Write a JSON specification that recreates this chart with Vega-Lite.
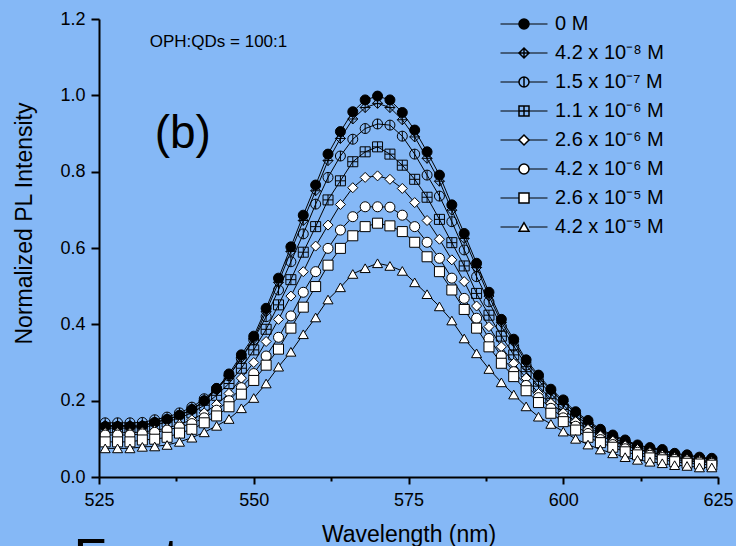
{
"$schema": "https://vega.github.io/schema/vega-lite/v6.json",
"autosize": {"type": "none"},
"width": 619, "height": 458,
"padding": {"left": 99, "top": 19, "right": 18, "bottom": 69},
"background": "#85b8f6",
"config": {"view": {"stroke": null}, "font": "Liberation Sans"},
"layer": [
{
"data": {"values": [
{"s":"0 M","w":526,"v":0.132},{"s":"0 M","w":528,"v":0.132},{"s":"0 M","w":530,"v":0.132},{"s":"0 M","w":532,"v":0.133},{"s":"0 M","w":534,"v":0.143},{"s":"0 M","w":536,"v":0.151},{"s":"0 M","w":538,"v":0.162},{"s":"0 M","w":540,"v":0.177},{"s":"0 M","w":542,"v":0.200},{"s":"0 M","w":544,"v":0.232},
{"s":"0 M","w":546,"v":0.270},{"s":"0 M","w":548,"v":0.320},{"s":"0 M","w":550,"v":0.369},{"s":"0 M","w":552,"v":0.442},{"s":"0 M","w":554,"v":0.521},{"s":"0 M","w":556,"v":0.603},{"s":"0 M","w":558,"v":0.686},{"s":"0 M","w":560,"v":0.765},{"s":"0 M","w":562,"v":0.846},{"s":"0 M","w":564,"v":0.905},
{"s":"0 M","w":566,"v":0.957},{"s":"0 M","w":568,"v":0.988},{"s":"0 M","w":570,"v":0.998},{"s":"0 M","w":572,"v":0.988},{"s":"0 M","w":574,"v":0.955},{"s":"0 M","w":576,"v":0.909},{"s":"0 M","w":578,"v":0.852},{"s":"0 M","w":580,"v":0.791},{"s":"0 M","w":582,"v":0.713},{"s":"0 M","w":584,"v":0.638},
{"s":"0 M","w":586,"v":0.560},{"s":"0 M","w":588,"v":0.484},{"s":"0 M","w":590,"v":0.413},{"s":"0 M","w":592,"v":0.361},{"s":"0 M","w":594,"v":0.307},{"s":"0 M","w":596,"v":0.267},{"s":"0 M","w":598,"v":0.230},{"s":"0 M","w":600,"v":0.202},{"s":"0 M","w":602,"v":0.171},{"s":"0 M","w":604,"v":0.148},
{"s":"0 M","w":606,"v":0.125},{"s":"0 M","w":608,"v":0.110},{"s":"0 M","w":610,"v":0.097},{"s":"0 M","w":612,"v":0.084},{"s":"0 M","w":614,"v":0.077},{"s":"0 M","w":616,"v":0.072},{"s":"0 M","w":618,"v":0.062},{"s":"0 M","w":620,"v":0.058},{"s":"0 M","w":622,"v":0.052},{"s":"0 M","w":624,"v":0.049},

{"s":"4.2 x 10⁻⁸ M","w":526,"v":0.135},{"s":"4.2 x 10⁻⁸ M","w":528,"v":0.135},{"s":"4.2 x 10⁻⁸ M","w":530,"v":0.135},{"s":"4.2 x 10⁻⁸ M","w":532,"v":0.136},{"s":"4.2 x 10⁻⁸ M","w":534,"v":0.143},{"s":"4.2 x 10⁻⁸ M","w":536,"v":0.151},{"s":"4.2 x 10⁻⁸ M","w":538,"v":0.161},{"s":"4.2 x 10⁻⁸ M","w":540,"v":0.176},{"s":"4.2 x 10⁻⁸ M","w":542,"v":0.198},{"s":"4.2 x 10⁻⁸ M","w":544,"v":0.228},
{"s":"4.2 x 10⁻⁸ M","w":546,"v":0.265},{"s":"4.2 x 10⁻⁸ M","w":548,"v":0.313},{"s":"4.2 x 10⁻⁸ M","w":550,"v":0.362},{"s":"4.2 x 10⁻⁸ M","w":552,"v":0.433},{"s":"4.2 x 10⁻⁸ M","w":554,"v":0.510},{"s":"4.2 x 10⁻⁸ M","w":556,"v":0.591},{"s":"4.2 x 10⁻⁸ M","w":558,"v":0.672},{"s":"4.2 x 10⁻⁸ M","w":560,"v":0.750},{"s":"4.2 x 10⁻⁸ M","w":562,"v":0.829},{"s":"4.2 x 10⁻⁸ M","w":564,"v":0.887},
{"s":"4.2 x 10⁻⁸ M","w":566,"v":0.938},{"s":"4.2 x 10⁻⁸ M","w":568,"v":0.968},{"s":"4.2 x 10⁻⁸ M","w":570,"v":0.979},{"s":"4.2 x 10⁻⁸ M","w":572,"v":0.968},{"s":"4.2 x 10⁻⁸ M","w":574,"v":0.936},{"s":"4.2 x 10⁻⁸ M","w":576,"v":0.891},{"s":"4.2 x 10⁻⁸ M","w":578,"v":0.835},{"s":"4.2 x 10⁻⁸ M","w":580,"v":0.775},{"s":"4.2 x 10⁻⁸ M","w":582,"v":0.699},{"s":"4.2 x 10⁻⁸ M","w":584,"v":0.625},
{"s":"4.2 x 10⁻⁸ M","w":586,"v":0.549},{"s":"4.2 x 10⁻⁸ M","w":588,"v":0.474},{"s":"4.2 x 10⁻⁸ M","w":590,"v":0.405},{"s":"4.2 x 10⁻⁸ M","w":592,"v":0.354},{"s":"4.2 x 10⁻⁸ M","w":594,"v":0.301},{"s":"4.2 x 10⁻⁸ M","w":596,"v":0.262},{"s":"4.2 x 10⁻⁸ M","w":598,"v":0.226},{"s":"4.2 x 10⁻⁸ M","w":600,"v":0.197},{"s":"4.2 x 10⁻⁸ M","w":602,"v":0.167},{"s":"4.2 x 10⁻⁸ M","w":604,"v":0.144},
{"s":"4.2 x 10⁻⁸ M","w":606,"v":0.122},{"s":"4.2 x 10⁻⁸ M","w":608,"v":0.107},{"s":"4.2 x 10⁻⁸ M","w":610,"v":0.094},{"s":"4.2 x 10⁻⁸ M","w":612,"v":0.082},{"s":"4.2 x 10⁻⁸ M","w":614,"v":0.075},{"s":"4.2 x 10⁻⁸ M","w":616,"v":0.069},{"s":"4.2 x 10⁻⁸ M","w":618,"v":0.060},{"s":"4.2 x 10⁻⁸ M","w":620,"v":0.056},{"s":"4.2 x 10⁻⁸ M","w":622,"v":0.050},{"s":"4.2 x 10⁻⁸ M","w":624,"v":0.047},

{"s":"1.5 x 10⁻⁷ M","w":526,"v":0.142},{"s":"1.5 x 10⁻⁷ M","w":528,"v":0.142},{"s":"1.5 x 10⁻⁷ M","w":530,"v":0.142},{"s":"1.5 x 10⁻⁷ M","w":532,"v":0.143},{"s":"1.5 x 10⁻⁷ M","w":534,"v":0.150},{"s":"1.5 x 10⁻⁷ M","w":536,"v":0.157},{"s":"1.5 x 10⁻⁷ M","w":538,"v":0.168},{"s":"1.5 x 10⁻⁷ M","w":540,"v":0.183},{"s":"1.5 x 10⁻⁷ M","w":542,"v":0.205},{"s":"1.5 x 10⁻⁷ M","w":544,"v":0.232},
{"s":"1.5 x 10⁻⁷ M","w":546,"v":0.265},{"s":"1.5 x 10⁻⁷ M","w":548,"v":0.310},{"s":"1.5 x 10⁻⁷ M","w":550,"v":0.360},{"s":"1.5 x 10⁻⁷ M","w":552,"v":0.420},{"s":"1.5 x 10⁻⁷ M","w":554,"v":0.490},{"s":"1.5 x 10⁻⁷ M","w":556,"v":0.564},{"s":"1.5 x 10⁻⁷ M","w":558,"v":0.637},{"s":"1.5 x 10⁻⁷ M","w":560,"v":0.715},{"s":"1.5 x 10⁻⁷ M","w":562,"v":0.785},{"s":"1.5 x 10⁻⁷ M","w":564,"v":0.841},
{"s":"1.5 x 10⁻⁷ M","w":566,"v":0.885},{"s":"1.5 x 10⁻⁷ M","w":568,"v":0.913},{"s":"1.5 x 10⁻⁷ M","w":570,"v":0.925},{"s":"1.5 x 10⁻⁷ M","w":572,"v":0.922},{"s":"1.5 x 10⁻⁷ M","w":574,"v":0.893},{"s":"1.5 x 10⁻⁷ M","w":576,"v":0.846},{"s":"1.5 x 10⁻⁷ M","w":578,"v":0.791},{"s":"1.5 x 10⁻⁷ M","w":580,"v":0.736},{"s":"1.5 x 10⁻⁷ M","w":582,"v":0.669},{"s":"1.5 x 10⁻⁷ M","w":584,"v":0.595},
{"s":"1.5 x 10⁻⁷ M","w":586,"v":0.525},{"s":"1.5 x 10⁻⁷ M","w":588,"v":0.459},{"s":"1.5 x 10⁻⁷ M","w":590,"v":0.395},{"s":"1.5 x 10⁻⁷ M","w":592,"v":0.343},{"s":"1.5 x 10⁻⁷ M","w":594,"v":0.293},{"s":"1.5 x 10⁻⁷ M","w":596,"v":0.253},{"s":"1.5 x 10⁻⁷ M","w":598,"v":0.218},{"s":"1.5 x 10⁻⁷ M","w":600,"v":0.188},{"s":"1.5 x 10⁻⁷ M","w":602,"v":0.160},{"s":"1.5 x 10⁻⁷ M","w":604,"v":0.138},
{"s":"1.5 x 10⁻⁷ M","w":606,"v":0.118},{"s":"1.5 x 10⁻⁷ M","w":608,"v":0.102},{"s":"1.5 x 10⁻⁷ M","w":610,"v":0.089},{"s":"1.5 x 10⁻⁷ M","w":612,"v":0.078},{"s":"1.5 x 10⁻⁷ M","w":614,"v":0.069},{"s":"1.5 x 10⁻⁷ M","w":616,"v":0.062},{"s":"1.5 x 10⁻⁷ M","w":618,"v":0.055},{"s":"1.5 x 10⁻⁷ M","w":620,"v":0.050},{"s":"1.5 x 10⁻⁷ M","w":622,"v":0.046},{"s":"1.5 x 10⁻⁷ M","w":624,"v":0.043},

{"s":"1.1 x 10⁻⁶ M","w":526,"v":0.128},{"s":"1.1 x 10⁻⁶ M","w":528,"v":0.128},{"s":"1.1 x 10⁻⁶ M","w":530,"v":0.128},{"s":"1.1 x 10⁻⁶ M","w":532,"v":0.130},{"s":"1.1 x 10⁻⁶ M","w":534,"v":0.136},{"s":"1.1 x 10⁻⁶ M","w":536,"v":0.144},{"s":"1.1 x 10⁻⁶ M","w":538,"v":0.155},{"s":"1.1 x 10⁻⁶ M","w":540,"v":0.168},{"s":"1.1 x 10⁻⁶ M","w":542,"v":0.188},{"s":"1.1 x 10⁻⁶ M","w":544,"v":0.214},
{"s":"1.1 x 10⁻⁶ M","w":546,"v":0.245},{"s":"1.1 x 10⁻⁶ M","w":548,"v":0.285},{"s":"1.1 x 10⁻⁶ M","w":550,"v":0.333},{"s":"1.1 x 10⁻⁶ M","w":552,"v":0.387},{"s":"1.1 x 10⁻⁶ M","w":554,"v":0.451},{"s":"1.1 x 10⁻⁶ M","w":556,"v":0.517},{"s":"1.1 x 10⁻⁶ M","w":558,"v":0.589},{"s":"1.1 x 10⁻⁶ M","w":560,"v":0.656},{"s":"1.1 x 10⁻⁶ M","w":562,"v":0.726},{"s":"1.1 x 10⁻⁶ M","w":564,"v":0.776},
{"s":"1.1 x 10⁻⁶ M","w":566,"v":0.826},{"s":"1.1 x 10⁻⁶ M","w":568,"v":0.852},{"s":"1.1 x 10⁻⁶ M","w":570,"v":0.865},{"s":"1.1 x 10⁻⁶ M","w":572,"v":0.846},{"s":"1.1 x 10⁻⁶ M","w":574,"v":0.817},{"s":"1.1 x 10⁻⁶ M","w":576,"v":0.780},{"s":"1.1 x 10⁻⁶ M","w":578,"v":0.733},{"s":"1.1 x 10⁻⁶ M","w":580,"v":0.675},{"s":"1.1 x 10⁻⁶ M","w":582,"v":0.614},{"s":"1.1 x 10⁻⁶ M","w":584,"v":0.553},
{"s":"1.1 x 10⁻⁶ M","w":586,"v":0.481},{"s":"1.1 x 10⁻⁶ M","w":588,"v":0.424},{"s":"1.1 x 10⁻⁶ M","w":590,"v":0.369},{"s":"1.1 x 10⁻⁶ M","w":592,"v":0.320},{"s":"1.1 x 10⁻⁶ M","w":594,"v":0.276},{"s":"1.1 x 10⁻⁶ M","w":596,"v":0.238},{"s":"1.1 x 10⁻⁶ M","w":598,"v":0.205},{"s":"1.1 x 10⁻⁶ M","w":600,"v":0.177},{"s":"1.1 x 10⁻⁶ M","w":602,"v":0.152},{"s":"1.1 x 10⁻⁶ M","w":604,"v":0.131},
{"s":"1.1 x 10⁻⁶ M","w":606,"v":0.112},{"s":"1.1 x 10⁻⁶ M","w":608,"v":0.097},{"s":"1.1 x 10⁻⁶ M","w":610,"v":0.084},{"s":"1.1 x 10⁻⁶ M","w":612,"v":0.074},{"s":"1.1 x 10⁻⁶ M","w":614,"v":0.065},{"s":"1.1 x 10⁻⁶ M","w":616,"v":0.058},{"s":"1.1 x 10⁻⁶ M","w":618,"v":0.052},{"s":"1.1 x 10⁻⁶ M","w":620,"v":0.047},{"s":"1.1 x 10⁻⁶ M","w":622,"v":0.043},{"s":"1.1 x 10⁻⁶ M","w":624,"v":0.040},

{"s":"2.6 x 10⁻⁶ M","w":526,"v":0.116},{"s":"2.6 x 10⁻⁶ M","w":528,"v":0.116},{"s":"2.6 x 10⁻⁶ M","w":530,"v":0.116},{"s":"2.6 x 10⁻⁶ M","w":532,"v":0.118},{"s":"2.6 x 10⁻⁶ M","w":534,"v":0.122},{"s":"2.6 x 10⁻⁶ M","w":536,"v":0.128},{"s":"2.6 x 10⁻⁶ M","w":538,"v":0.138},{"s":"2.6 x 10⁻⁶ M","w":540,"v":0.150},{"s":"2.6 x 10⁻⁶ M","w":542,"v":0.168},{"s":"2.6 x 10⁻⁶ M","w":544,"v":0.190},
{"s":"2.6 x 10⁻⁶ M","w":546,"v":0.219},{"s":"2.6 x 10⁻⁶ M","w":548,"v":0.259},{"s":"2.6 x 10⁻⁶ M","w":550,"v":0.300},{"s":"2.6 x 10⁻⁶ M","w":552,"v":0.355},{"s":"2.6 x 10⁻⁶ M","w":554,"v":0.413},{"s":"2.6 x 10⁻⁶ M","w":556,"v":0.474},{"s":"2.6 x 10⁻⁶ M","w":558,"v":0.538},{"s":"2.6 x 10⁻⁶ M","w":560,"v":0.605},{"s":"2.6 x 10⁻⁶ M","w":562,"v":0.660},{"s":"2.6 x 10⁻⁶ M","w":564,"v":0.714},
{"s":"2.6 x 10⁻⁶ M","w":566,"v":0.758},{"s":"2.6 x 10⁻⁶ M","w":568,"v":0.785},{"s":"2.6 x 10⁻⁶ M","w":570,"v":0.789},{"s":"2.6 x 10⁻⁶ M","w":572,"v":0.780},{"s":"2.6 x 10⁻⁶ M","w":574,"v":0.756},{"s":"2.6 x 10⁻⁶ M","w":576,"v":0.719},{"s":"2.6 x 10⁻⁶ M","w":578,"v":0.672},{"s":"2.6 x 10⁻⁶ M","w":580,"v":0.623},{"s":"2.6 x 10⁻⁶ M","w":582,"v":0.569},{"s":"2.6 x 10⁻⁶ M","w":584,"v":0.512},
{"s":"2.6 x 10⁻⁶ M","w":586,"v":0.448},{"s":"2.6 x 10⁻⁶ M","w":588,"v":0.394},{"s":"2.6 x 10⁻⁶ M","w":590,"v":0.341},{"s":"2.6 x 10⁻⁶ M","w":592,"v":0.298},{"s":"2.6 x 10⁻⁶ M","w":594,"v":0.259},{"s":"2.6 x 10⁻⁶ M","w":596,"v":0.219},{"s":"2.6 x 10⁻⁶ M","w":598,"v":0.193},{"s":"2.6 x 10⁻⁶ M","w":600,"v":0.168},{"s":"2.6 x 10⁻⁶ M","w":602,"v":0.145},{"s":"2.6 x 10⁻⁶ M","w":604,"v":0.125},
{"s":"2.6 x 10⁻⁶ M","w":606,"v":0.108},{"s":"2.6 x 10⁻⁶ M","w":608,"v":0.094},{"s":"2.6 x 10⁻⁶ M","w":610,"v":0.082},{"s":"2.6 x 10⁻⁶ M","w":612,"v":0.072},{"s":"2.6 x 10⁻⁶ M","w":614,"v":0.064},{"s":"2.6 x 10⁻⁶ M","w":616,"v":0.057},{"s":"2.6 x 10⁻⁶ M","w":618,"v":0.051},{"s":"2.6 x 10⁻⁶ M","w":620,"v":0.047},{"s":"2.6 x 10⁻⁶ M","w":622,"v":0.043},{"s":"2.6 x 10⁻⁶ M","w":624,"v":0.040},

{"s":"4.2 x 10⁻⁶ M","w":526,"v":0.110},{"s":"4.2 x 10⁻⁶ M","w":528,"v":0.110},{"s":"4.2 x 10⁻⁶ M","w":530,"v":0.110},{"s":"4.2 x 10⁻⁶ M","w":532,"v":0.113},{"s":"4.2 x 10⁻⁶ M","w":534,"v":0.117},{"s":"4.2 x 10⁻⁶ M","w":536,"v":0.123},{"s":"4.2 x 10⁻⁶ M","w":538,"v":0.131},{"s":"4.2 x 10⁻⁶ M","w":540,"v":0.140},{"s":"4.2 x 10⁻⁶ M","w":542,"v":0.155},{"s":"4.2 x 10⁻⁶ M","w":544,"v":0.175},
{"s":"4.2 x 10⁻⁶ M","w":546,"v":0.200},{"s":"4.2 x 10⁻⁶ M","w":548,"v":0.234},{"s":"4.2 x 10⁻⁶ M","w":550,"v":0.271},{"s":"4.2 x 10⁻⁶ M","w":552,"v":0.317},{"s":"4.2 x 10⁻⁶ M","w":554,"v":0.366},{"s":"4.2 x 10⁻⁶ M","w":556,"v":0.422},{"s":"4.2 x 10⁻⁶ M","w":558,"v":0.484},{"s":"4.2 x 10⁻⁶ M","w":560,"v":0.538},{"s":"4.2 x 10⁻⁶ M","w":562,"v":0.599},{"s":"4.2 x 10⁻⁶ M","w":564,"v":0.647},
{"s":"4.2 x 10⁻⁶ M","w":566,"v":0.682},{"s":"4.2 x 10⁻⁶ M","w":568,"v":0.708},{"s":"4.2 x 10⁻⁶ M","w":570,"v":0.708},{"s":"4.2 x 10⁻⁶ M","w":572,"v":0.707},{"s":"4.2 x 10⁻⁶ M","w":574,"v":0.686},{"s":"4.2 x 10⁻⁶ M","w":576,"v":0.656},{"s":"4.2 x 10⁻⁶ M","w":578,"v":0.615},{"s":"4.2 x 10⁻⁶ M","w":580,"v":0.573},{"s":"4.2 x 10⁻⁶ M","w":582,"v":0.521},{"s":"4.2 x 10⁻⁶ M","w":584,"v":0.468},
{"s":"4.2 x 10⁻⁶ M","w":586,"v":0.416},{"s":"4.2 x 10⁻⁶ M","w":588,"v":0.363},{"s":"4.2 x 10⁻⁶ M","w":590,"v":0.317},{"s":"4.2 x 10⁻⁶ M","w":592,"v":0.276},{"s":"4.2 x 10⁻⁶ M","w":594,"v":0.240},{"s":"4.2 x 10⁻⁶ M","w":596,"v":0.208},{"s":"4.2 x 10⁻⁶ M","w":598,"v":0.180},{"s":"4.2 x 10⁻⁶ M","w":600,"v":0.155},{"s":"4.2 x 10⁻⁶ M","w":602,"v":0.133},{"s":"4.2 x 10⁻⁶ M","w":604,"v":0.114},
{"s":"4.2 x 10⁻⁶ M","w":606,"v":0.098},{"s":"4.2 x 10⁻⁶ M","w":608,"v":0.085},{"s":"4.2 x 10⁻⁶ M","w":610,"v":0.074},{"s":"4.2 x 10⁻⁶ M","w":612,"v":0.065},{"s":"4.2 x 10⁻⁶ M","w":614,"v":0.057},{"s":"4.2 x 10⁻⁶ M","w":616,"v":0.051},{"s":"4.2 x 10⁻⁶ M","w":618,"v":0.046},{"s":"4.2 x 10⁻⁶ M","w":620,"v":0.042},{"s":"4.2 x 10⁻⁶ M","w":622,"v":0.039},{"s":"4.2 x 10⁻⁶ M","w":624,"v":0.036},

{"s":"2.6 x 10⁻⁵ M","w":526,"v":0.092},{"s":"2.6 x 10⁻⁵ M","w":528,"v":0.092},{"s":"2.6 x 10⁻⁵ M","w":530,"v":0.092},{"s":"2.6 x 10⁻⁵ M","w":532,"v":0.097},{"s":"2.6 x 10⁻⁵ M","w":534,"v":0.099},{"s":"2.6 x 10⁻⁵ M","w":536,"v":0.104},{"s":"2.6 x 10⁻⁵ M","w":538,"v":0.115},{"s":"2.6 x 10⁻⁵ M","w":540,"v":0.125},{"s":"2.6 x 10⁻⁵ M","w":542,"v":0.142},{"s":"2.6 x 10⁻⁵ M","w":544,"v":0.160},
{"s":"2.6 x 10⁻⁵ M","w":546,"v":0.184},{"s":"2.6 x 10⁻⁵ M","w":548,"v":0.217},{"s":"2.6 x 10⁻⁵ M","w":550,"v":0.253},{"s":"2.6 x 10⁻⁵ M","w":552,"v":0.293},{"s":"2.6 x 10⁻⁵ M","w":554,"v":0.335},{"s":"2.6 x 10⁻⁵ M","w":556,"v":0.390},{"s":"2.6 x 10⁻⁵ M","w":558,"v":0.445},{"s":"2.6 x 10⁻⁵ M","w":560,"v":0.499},{"s":"2.6 x 10⁻⁵ M","w":562,"v":0.555},{"s":"2.6 x 10⁻⁵ M","w":564,"v":0.599},
{"s":"2.6 x 10⁻⁵ M","w":566,"v":0.632},{"s":"2.6 x 10⁻⁵ M","w":568,"v":0.656},{"s":"2.6 x 10⁻⁵ M","w":570,"v":0.665},{"s":"2.6 x 10⁻⁵ M","w":572,"v":0.658},{"s":"2.6 x 10⁻⁵ M","w":574,"v":0.643},{"s":"2.6 x 10⁻⁵ M","w":576,"v":0.615},{"s":"2.6 x 10⁻⁵ M","w":578,"v":0.577},{"s":"2.6 x 10⁻⁵ M","w":580,"v":0.538},{"s":"2.6 x 10⁻⁵ M","w":582,"v":0.490},{"s":"2.6 x 10⁻⁵ M","w":584,"v":0.439},
{"s":"2.6 x 10⁻⁵ M","w":586,"v":0.390},{"s":"2.6 x 10⁻⁵ M","w":588,"v":0.341},{"s":"2.6 x 10⁻⁵ M","w":590,"v":0.298},{"s":"2.6 x 10⁻⁵ M","w":592,"v":0.263},{"s":"2.6 x 10⁻⁵ M","w":594,"v":0.226},{"s":"2.6 x 10⁻⁵ M","w":596,"v":0.195},{"s":"2.6 x 10⁻⁵ M","w":598,"v":0.167},{"s":"2.6 x 10⁻⁵ M","w":600,"v":0.145},{"s":"2.6 x 10⁻⁵ M","w":602,"v":0.123},{"s":"2.6 x 10⁻⁵ M","w":604,"v":0.104},
{"s":"2.6 x 10⁻⁵ M","w":606,"v":0.090},{"s":"2.6 x 10⁻⁵ M","w":608,"v":0.078},{"s":"2.6 x 10⁻⁵ M","w":610,"v":0.066},{"s":"2.6 x 10⁻⁵ M","w":612,"v":0.058},{"s":"2.6 x 10⁻⁵ M","w":614,"v":0.050},{"s":"2.6 x 10⁻⁵ M","w":616,"v":0.045},{"s":"2.6 x 10⁻⁵ M","w":618,"v":0.040},{"s":"2.6 x 10⁻⁵ M","w":620,"v":0.036},{"s":"2.6 x 10⁻⁵ M","w":622,"v":0.034},{"s":"2.6 x 10⁻⁵ M","w":624,"v":0.031},

{"s":"4.2 x 10⁻⁵ M","w":526,"v":0.075},{"s":"4.2 x 10⁻⁵ M","w":528,"v":0.075},{"s":"4.2 x 10⁻⁵ M","w":530,"v":0.075},{"s":"4.2 x 10⁻⁵ M","w":532,"v":0.079},{"s":"4.2 x 10⁻⁵ M","w":534,"v":0.080},{"s":"4.2 x 10⁻⁵ M","w":536,"v":0.084},{"s":"4.2 x 10⁻⁵ M","w":538,"v":0.092},{"s":"4.2 x 10⁻⁵ M","w":540,"v":0.103},{"s":"4.2 x 10⁻⁵ M","w":542,"v":0.117},{"s":"4.2 x 10⁻⁵ M","w":544,"v":0.134},
{"s":"4.2 x 10⁻⁵ M","w":546,"v":0.152},{"s":"4.2 x 10⁻⁵ M","w":548,"v":0.180},{"s":"4.2 x 10⁻⁵ M","w":550,"v":0.207},{"s":"4.2 x 10⁻⁵ M","w":552,"v":0.245},{"s":"4.2 x 10⁻⁵ M","w":554,"v":0.289},{"s":"4.2 x 10⁻⁵ M","w":556,"v":0.328},{"s":"4.2 x 10⁻⁵ M","w":558,"v":0.374},{"s":"4.2 x 10⁻⁵ M","w":560,"v":0.418},{"s":"4.2 x 10⁻⁵ M","w":562,"v":0.465},{"s":"4.2 x 10⁻⁵ M","w":564,"v":0.497},
{"s":"4.2 x 10⁻⁵ M","w":566,"v":0.532},{"s":"4.2 x 10⁻⁵ M","w":568,"v":0.547},{"s":"4.2 x 10⁻⁵ M","w":570,"v":0.560},{"s":"4.2 x 10⁻⁵ M","w":572,"v":0.553},{"s":"4.2 x 10⁻⁵ M","w":574,"v":0.540},{"s":"4.2 x 10⁻⁵ M","w":576,"v":0.510},{"s":"4.2 x 10⁻⁵ M","w":578,"v":0.479},{"s":"4.2 x 10⁻⁵ M","w":580,"v":0.447},{"s":"4.2 x 10⁻⁵ M","w":582,"v":0.410},{"s":"4.2 x 10⁻⁵ M","w":584,"v":0.363},
{"s":"4.2 x 10⁻⁵ M","w":586,"v":0.324},{"s":"4.2 x 10⁻⁵ M","w":588,"v":0.283},{"s":"4.2 x 10⁻⁵ M","w":590,"v":0.248},{"s":"4.2 x 10⁻⁵ M","w":592,"v":0.216},{"s":"4.2 x 10⁻⁵ M","w":594,"v":0.185},{"s":"4.2 x 10⁻⁵ M","w":596,"v":0.158},{"s":"4.2 x 10⁻⁵ M","w":598,"v":0.139},{"s":"4.2 x 10⁻⁵ M","w":600,"v":0.119},{"s":"4.2 x 10⁻⁵ M","w":602,"v":0.100},{"s":"4.2 x 10⁻⁵ M","w":604,"v":0.085},
{"s":"4.2 x 10⁻⁵ M","w":606,"v":0.072},{"s":"4.2 x 10⁻⁵ M","w":608,"v":0.062},{"s":"4.2 x 10⁻⁵ M","w":610,"v":0.052},{"s":"4.2 x 10⁻⁵ M","w":612,"v":0.045},{"s":"4.2 x 10⁻⁵ M","w":614,"v":0.040},{"s":"4.2 x 10⁻⁵ M","w":616,"v":0.036},{"s":"4.2 x 10⁻⁵ M","w":618,"v":0.031},{"s":"4.2 x 10⁻⁵ M","w":620,"v":0.029},{"s":"4.2 x 10⁻⁵ M","w":622,"v":0.025},{"s":"4.2 x 10⁻⁵ M","w":624,"v":0.025}
]},
"layer": [
{
"mark": {"type": "line", "strokeWidth": 1},
"encoding": {
"x": {"field": "w", "type": "quantitative", "scale": {"domain": [525, 625], "nice": false, "zero": false},
"axis": {"values": [525, 537.5, 550, 562.5, 575, 587.5, 600, 612.5, 625],
"labelExpr": "datum.value % 25 == 0 ? datum.label : ''",
"tickSize": {"condition": {"test": "datum.value % 25 == 0", "value": 7}, "value": 4},
"grid": false, "domainColor": "black", "domainWidth": 2, "tickColor": "black", "tickWidth": 2,
"labelFont": "Liberation Sans", "labelFontSize": 18, "labelColor": "black", "labelPadding": 7, "labelFlush": false,
"title": "Wavelength (nm)", "titleFont": "Liberation Sans", "titleFontSize": 23, "titleFontWeight": "normal", "titleColor": "black", "titlePadding": 14}},
"y": {"field": "v", "type": "quantitative", "scale": {"domain": [0, 1.2], "nice": false, "zero": false},
"axis": {"values": [0, 0.1, 0.2, 0.3, 0.4, 0.5, 0.6, 0.7, 0.8, 0.9, 1.0, 1.1, 1.2],
"labelExpr": "round(datum.value*10) % 2 == 0 ? format(datum.value, '.1f') : ''",
"tickSize": {"condition": {"test": "round(datum.value*10) % 2 == 0", "value": 8}, "value": 4},
"grid": false, "domainColor": "black", "domainWidth": 2, "tickColor": "black", "tickWidth": 2,
"labelFont": "Liberation Sans", "labelFontSize": 18, "labelColor": "black", "labelPadding": 6, "labelFlush": false,
"title": "Normalized PL Intensity", "titleFont": "Liberation Sans", "titleFontSize": 23, "titleFontWeight": "normal", "titleColor": "black", "titlePadding": 23, "titleY": 204}},
"stroke": {"field": "s", "type": "nominal", "sort": null,
"scale": {"range": ["black", "black", "black", "black", "black", "black", "black", "black"]},
"legend": {"title": null, "orient": "none", "legendX": 415, "legendY": -5, "padding": 0, "symbolOffset": 0,
"symbolType": "M-4.7,0H-1 M1,0H4.7", "symbolSize": 100, "symbolStrokeWidth": 1, "symbolStrokeColor": "black",
"labelOffset": 21, "labelFont": "Liberation Sans", "labelFontSize": 20, "labelColor": "transparent", "rowPadding": 9, "labelLimit": 300}}
}
},
{
"mark": {"type": "point", "filled": true, "stroke": "black", "strokeWidth": 1, "size": 100, "opacity": 1},
"encoding": {
"x": {"field": "w", "type": "quantitative"},
"y": {"field": "v", "type": "quantitative"},
"shape": {"field": "s", "type": "nominal",
"scale": {"domain": ["0 M", "4.2 x 10⁻⁸ M", "1.5 x 10⁻⁷ M", "1.1 x 10⁻⁶ M", "2.6 x 10⁻⁶ M", "4.2 x 10⁻⁶ M", "2.6 x 10⁻⁵ M", "4.2 x 10⁻⁵ M"],
"range": ["circle", "M0,-1L1,0L0,1L-1,0Z M0,-1V1 M-1,0H1", "M1,0A1,1,0,1,1,-1,0A1,1,0,1,1,1,0Z M0,-1V1", "M-1,-1H1V1H-1Z M0,-1V1 M-1,0H1", "diamond", "circle", "square", "triangle-up"]},
"legend": {"title": null, "orient": "none", "legendX": 415, "legendY": -5, "padding": 0, "symbolOffset": 0,
"symbolSize": 100, "labelOffset": 21, "labelFont": "Liberation Sans", "labelFontSize": 20, "labelColor": "black", "rowPadding": 9, "labelLimit": 300,
"encode": {"symbols": {
"stroke": {"value": "black"}, "strokeWidth": {"value": 1}, "opacity": {"value": 1},
"fill": {"value": {"expr": "scale('fill', datum.value)"}}
}}}},
"fill": {"field": "s", "type": "nominal", "legend": null,
"scale": {"domain": ["0 M", "4.2 x 10⁻⁸ M", "1.5 x 10⁻⁷ M", "1.1 x 10⁻⁶ M", "2.6 x 10⁻⁶ M", "4.2 x 10⁻⁶ M", "2.6 x 10⁻⁵ M", "4.2 x 10⁻⁵ M"],
"range": ["black", "transparent", "transparent", "transparent", "white", "white", "white", "white"]}}
}
}
]
},
{
"data": {"values": [{}]},
"mark": {"type": "text", "align": "left", "baseline": "middle", "font": "Liberation Sans", "fontSize": 17, "color": "black"},
"encoding": {"x": {"datum": 533.2, "type": "quantitative"}, "y": {"datum": 1.14, "type": "quantitative"}, "text": {"value": "OPH:QDs = 100:1"}}
},
{
"data": {"values": [{}]},
"mark": {"type": "text", "align": "left", "baseline": "middle", "font": "Liberation Sans", "fontSize": 46, "color": "black"},
"encoding": {"x": {"datum": 534, "type": "quantitative"}, "y": {"datum": 0.9, "type": "quantitative"}, "text": {"value": "(b)"}}
},
{
"data": {"values": [{}]},
"mark": {"type": "text", "align": "left", "baseline": "alphabetic", "font": "Liberation Sans", "fontSize": 54, "color": "black"},
"encoding": {"x": {"datum": 520.9, "type": "quantitative"}, "y": {"datum": -0.26, "type": "quantitative"}, "text": {"value": "Fast"}}
}
]
}
